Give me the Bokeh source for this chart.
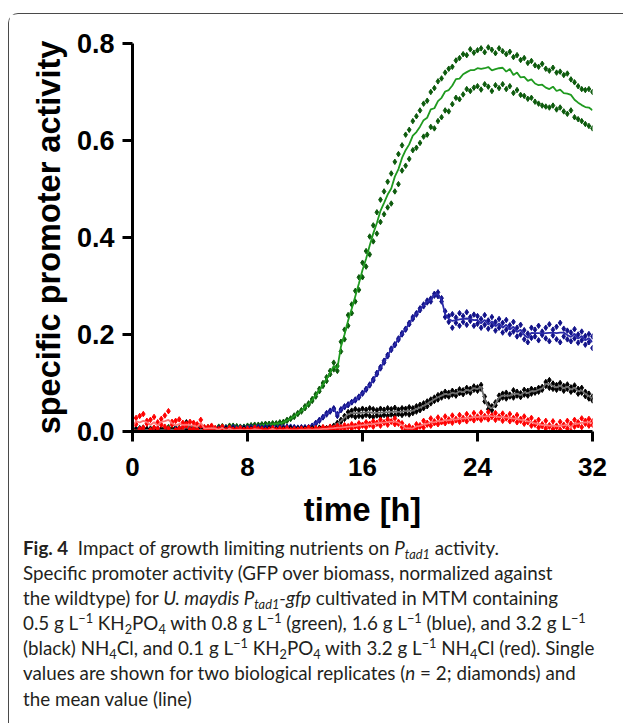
from bokeh.plotting import figure
from bokeh.models import Range1d, FixedTicker, Div, NumeralTickFormatter
from bokeh.layouts import column
from bokeh.embed import file_html
from bokeh.resources import INLINE

# time grid [h]
time_h = [i * 0.25 for i in range(129)]

# 0.8 g/L NH4Cl (green)
green_rep1 = [
    0.004, 0.006, 0.003, 0.008, 0.005, 0.002, 0.007, 0.004,
    0.006, 0.003, 0.009, 0.005, 0.004, 0.007, 0.002, 0.006,
    0.008, 0.005, 0.010, 0.006, 0.004, 0.009, 0.007, 0.005,
    0.008, 0.011, 0.006, 0.009, 0.012, 0.007, 0.010, 0.008,
    0.012, 0.009, 0.014, 0.011, 0.015, 0.012, 0.016, 0.013,
    0.017, 0.014, 0.020, 0.024, 0.027, 0.033, 0.038, 0.044,
    0.052, 0.058, 0.067, 0.077, 0.088, 0.100, 0.112, 0.125,
    0.142, 0.135, 0.185, 0.210, 0.240, 0.262, 0.290, 0.318,
    0.348, 0.372, 0.402, 0.425, 0.452, 0.478, 0.495, 0.515,
    0.532, 0.556, 0.572, 0.590, 0.612, 0.622, 0.640, 0.650,
    0.662, 0.676, 0.682, 0.700, 0.708, 0.722, 0.728, 0.740,
    0.748, 0.752, 0.765, 0.770, 0.778, 0.776, 0.788, 0.781,
    0.786, 0.790, 0.782, 0.792, 0.787, 0.780, 0.790, 0.784,
    0.778, 0.783, 0.772, 0.776, 0.766, 0.770, 0.760, 0.764,
    0.755, 0.752, 0.758, 0.748, 0.744, 0.750, 0.740, 0.742,
    0.735, 0.738, 0.726, 0.720, 0.712, 0.706, 0.704, 0.706,
    0.700]
green_rep2 = [
    0.006, 0.003, 0.007, 0.004, 0.002, 0.006, 0.003, 0.005,
    0.004, 0.007, 0.003, 0.006, 0.008, 0.004, 0.006, 0.003,
    0.005, 0.009, 0.006, 0.004, 0.008, 0.005, 0.009, 0.006,
    0.010, 0.007, 0.009, 0.012, 0.008, 0.011, 0.007, 0.010,
    0.009, 0.013, 0.010, 0.014, 0.011, 0.016, 0.013, 0.017,
    0.015, 0.019, 0.018, 0.022, 0.026, 0.030, 0.036, 0.041,
    0.048, 0.055, 0.063, 0.072, 0.083, 0.094, 0.104, 0.118,
    0.128, 0.125, 0.165, 0.190, 0.218, 0.244, 0.268, 0.292,
    0.318, 0.340, 0.365, 0.392, 0.408, 0.432, 0.448, 0.462,
    0.470, 0.495, 0.510, 0.538, 0.548, 0.562, 0.580, 0.585,
    0.595, 0.608, 0.612, 0.628, 0.625, 0.640, 0.648, 0.662,
    0.660, 0.675, 0.688, 0.685, 0.695, 0.706, 0.702, 0.709,
    0.712, 0.705, 0.716, 0.711, 0.702, 0.714, 0.708, 0.716,
    0.706, 0.712, 0.698, 0.704, 0.694, 0.692, 0.686, 0.688,
    0.680, 0.676, 0.672, 0.670, 0.668, 0.672, 0.664, 0.668,
    0.660, 0.655, 0.662, 0.648, 0.644, 0.640, 0.634, 0.630,
    0.625]

# 1.6 g/L NH4Cl (blue)
blue_rep1 = [
    0.004, 0.002, 0.006, 0.003, 0.005, 0.002, 0.004, 0.006,
    0.003, 0.005, 0.002, 0.004, 0.006, 0.003, 0.005, 0.004,
    0.006, 0.003, 0.005, 0.007, 0.004, 0.006, 0.008, 0.005,
    0.007, 0.005, 0.008, 0.006, 0.009, 0.007, 0.005, 0.008,
    0.006, 0.009, 0.007, 0.010, 0.008, 0.006, 0.009, 0.007,
    0.008, 0.006, 0.009, 0.007, 0.010, 0.008, 0.006, 0.009,
    0.007, 0.009, 0.012, 0.018, 0.024, 0.030, 0.038, 0.043,
    0.048, 0.036, 0.046, 0.052, 0.056, 0.061, 0.066, 0.072,
    0.080, 0.088, 0.097, 0.108, 0.121, 0.133, 0.146, 0.158,
    0.171, 0.180, 0.192, 0.203, 0.212, 0.224, 0.236, 0.244,
    0.254, 0.262, 0.266, 0.274, 0.280, 0.287, 0.275, 0.248,
    0.238, 0.242, 0.235, 0.244, 0.238, 0.246, 0.236, 0.241,
    0.238, 0.232, 0.240, 0.229, 0.236, 0.226, 0.232, 0.224,
    0.230, 0.219, 0.226, 0.214, 0.220, 0.209, 0.202, 0.214,
    0.210, 0.218, 0.206, 0.214, 0.221, 0.210, 0.216, 0.224,
    0.212, 0.208, 0.204, 0.211, 0.200, 0.206, 0.197, 0.201,
    0.196]
blue_rep2 = [
    0.002, 0.005, 0.003, 0.006, 0.002, 0.004, 0.003, 0.005,
    0.004, 0.002, 0.005, 0.003, 0.004, 0.006, 0.003, 0.005,
    0.004, 0.006, 0.003, 0.005, 0.007, 0.004, 0.006, 0.004,
    0.005, 0.008, 0.006, 0.004, 0.007, 0.005, 0.008, 0.006,
    0.008, 0.005, 0.009, 0.006, 0.007, 0.009, 0.006, 0.008,
    0.006, 0.009, 0.007, 0.010, 0.007, 0.009, 0.008, 0.006,
    0.009, 0.008, 0.011, 0.016, 0.022, 0.029, 0.035, 0.041,
    0.046, 0.032, 0.044, 0.050, 0.054, 0.060, 0.064, 0.070,
    0.078, 0.086, 0.095, 0.105, 0.118, 0.130, 0.142, 0.155,
    0.168, 0.178, 0.189, 0.200, 0.210, 0.221, 0.232, 0.241,
    0.250, 0.258, 0.270, 0.268, 0.284, 0.279, 0.268, 0.236,
    0.226, 0.214, 0.224, 0.218, 0.226, 0.220, 0.228, 0.218,
    0.222, 0.214, 0.220, 0.212, 0.218, 0.208, 0.214, 0.204,
    0.210, 0.201, 0.206, 0.196, 0.200, 0.190, 0.184, 0.193,
    0.196, 0.188, 0.199, 0.192, 0.186, 0.198, 0.190, 0.184,
    0.196, 0.190, 0.186, 0.192, 0.183, 0.188, 0.179, 0.184,
    0.172]

# 3.2 g/L NH4Cl (black)
black_rep1 = [
    0.003, 0.001, 0.004, 0.002, 0.005, 0.002, 0.003, 0.001,
    0.004, 0.002, 0.003, 0.005, 0.002, 0.004, 0.003, 0.019,
    0.004, 0.002, 0.005, 0.003, 0.005, 0.002, 0.004, 0.003,
    0.005, 0.003, 0.004, 0.002, 0.005, 0.003, 0.004, 0.006,
    0.003, 0.005, 0.004, 0.002, 0.005, 0.003, 0.006, 0.004,
    0.005, 0.003, 0.006, 0.004, 0.007, 0.005, 0.004, 0.006,
    0.005, 0.007, 0.004, 0.006, 0.008, 0.005, 0.007, 0.009,
    0.012, 0.018, 0.024, 0.032, 0.040, 0.043, 0.046, 0.044,
    0.047, 0.045, 0.048, 0.046, 0.044, 0.047, 0.045, 0.048,
    0.046, 0.049, 0.045, 0.048, 0.047, 0.050, 0.048, 0.052,
    0.055, 0.058, 0.062, 0.066, 0.070, 0.075, 0.078, 0.082,
    0.080, 0.084, 0.082, 0.087, 0.085, 0.090, 0.088, 0.093,
    0.091, 0.096, 0.072, 0.056, 0.052, 0.060, 0.074, 0.078,
    0.080, 0.076, 0.085, 0.082, 0.079, 0.086, 0.084, 0.088,
    0.086, 0.090, 0.092, 0.102, 0.106, 0.099, 0.096, 0.100,
    0.094, 0.097, 0.091, 0.095, 0.088, 0.090, 0.082, 0.078,
    0.072]
black_rep2 = [
    0.002, 0.004, 0.001, 0.003, 0.002, 0.004, 0.001, 0.003,
    0.002, 0.004, 0.001, 0.003, 0.004, 0.002, 0.003, 0.002,
    0.003, 0.005, 0.002, 0.004, 0.002, 0.003, 0.005, 0.002,
    0.004, 0.002, 0.005, 0.003, 0.002, 0.004, 0.003, 0.002,
    0.004, 0.002, 0.003, 0.005, 0.003, 0.004, 0.002, 0.005,
    0.003, 0.005, 0.004, 0.003, 0.005, 0.004, 0.006, 0.004,
    0.006, 0.004, 0.007, 0.005, 0.006, 0.008, 0.006, 0.008,
    0.010, 0.014, 0.020, 0.026, 0.031, 0.033, 0.030, 0.032,
    0.031, 0.034, 0.032, 0.030, 0.033, 0.031, 0.034, 0.032,
    0.035, 0.033, 0.036, 0.034, 0.037, 0.035, 0.038, 0.041,
    0.044, 0.048, 0.052, 0.058, 0.063, 0.066, 0.070, 0.073,
    0.072, 0.076, 0.074, 0.079, 0.077, 0.082, 0.080, 0.086,
    0.084, 0.088, 0.062, 0.046, 0.044, 0.054, 0.066, 0.070,
    0.068, 0.072, 0.070, 0.074, 0.071, 0.076, 0.074, 0.078,
    0.080, 0.082, 0.086, 0.094, 0.090, 0.088, 0.086, 0.089,
    0.084, 0.088, 0.082, 0.085, 0.078, 0.080, 0.073, 0.068,
    0.064]

# 0.1 g/L KH2PO4 + 3.2 g/L NH4Cl (red)
red_rep1 = [
    0.012, 0.028, 0.005, 0.036, 0.016, 0.024, 0.008, 0.019,
    0.026, 0.010, 0.042, 0.014, 0.022, 0.006, 0.018, 0.012,
    0.020, 0.006, 0.015, 0.024, 0.009, 0.004, 0.012, 0.007,
    0.005, 0.010, 0.003, 0.008, 0.004, 0.002, 0.007, 0.003,
    0.006, 0.002, 0.008, 0.003, 0.005, 0.002, 0.004, 0.007,
    0.003, 0.006, 0.002, 0.007, 0.003, 0.005, 0.002, 0.006,
    0.004, 0.008, 0.003, 0.007, 0.004, 0.009, 0.005, 0.010,
    0.006, 0.012, 0.007, 0.013, 0.009, 0.015, 0.010, 0.017,
    0.012, 0.019, 0.014, 0.021, 0.016, 0.024, 0.018, 0.025,
    0.021, 0.027, 0.020, 0.017, 0.009, 0.011, 0.007, 0.015,
    0.013, 0.022, 0.018, 0.027, 0.021, 0.029, 0.023, 0.031,
    0.025, 0.033, 0.026, 0.034, 0.028, 0.036, 0.029, 0.038,
    0.031, 0.039, 0.032, 0.040, 0.033, 0.038, 0.031, 0.037,
    0.030, 0.036, 0.028, 0.034, 0.026, 0.031, 0.023, 0.028,
    0.019, 0.024, 0.015, 0.022, 0.013, 0.021, 0.012, 0.020,
    0.014, 0.022, 0.016, 0.024, 0.019, 0.027, 0.022, 0.026,
    0.021]
red_rep2 = [
    0.004, 0.015, 0.032, 0.008, 0.022, 0.003, 0.030, 0.006,
    0.014, 0.033, 0.006, 0.020, 0.003, 0.025, 0.009, 0.016,
    0.005, 0.018, 0.004, 0.012, 0.003, 0.009, 0.002, 0.006,
    0.002, 0.005, 0.001, 0.004, 0.002, 0.005, 0.001, 0.003,
    0.001, 0.004, 0.002, 0.005, 0.001, 0.003, 0.002, 0.004,
    0.002, 0.001, 0.004, 0.002, 0.003, 0.001, 0.004, 0.002,
    0.003, 0.001, 0.004, 0.002, 0.005, 0.002, 0.006, 0.003,
    0.008, 0.004, 0.009, 0.005, 0.011, 0.006, 0.012, 0.008,
    0.014, 0.009, 0.016, 0.010, 0.018, 0.012, 0.019, 0.014,
    0.020, 0.015, 0.016, 0.009, 0.004, 0.002, 0.005, 0.006,
    0.010, 0.008, 0.014, 0.012, 0.017, 0.015, 0.019, 0.017,
    0.021, 0.018, 0.023, 0.020, 0.025, 0.021, 0.027, 0.023,
    0.028, 0.024, 0.029, 0.025, 0.030, 0.024, 0.028, 0.022,
    0.027, 0.021, 0.025, 0.019, 0.022, 0.016, 0.019, 0.012,
    0.014, 0.008, 0.011, 0.006, 0.010, 0.005, 0.009, 0.004,
    0.011, 0.006, 0.001, 0.010, 0.013, 0.009, 0.016, 0.012,
    0.014]

x_ticks = [0, 8, 16, 24, 32]
y_ticks = [0.0, 0.2, 0.4, 0.6, 0.8]

for arr in (green_rep1, green_rep2, blue_rep1, blue_rep2, black_rep1, black_rep2, red_rep1, red_rep2):
    assert len(arr) == len(time_h), len(arr)

series = [
    (green_rep1, green_rep2, "#0c5a0c", "#1f9a1f"),
    (blue_rep1, blue_rep2, "#12128a", "#2a2aa8"),
    (black_rep1, black_rep2, "#000000", "#6e6e6e"),
    (red_rep1, red_rep2, "#ff0000", "#ff7272"),
]

p = figure(width=606, height=516, x_range=Range1d(0, 32), y_range=Range1d(0, 0.8),
           output_backend="svg", toolbar_location=None,
           min_border_left=123, min_border_right=23, min_border_top=29, min_border_bottom=97)
p.outline_line_color = None
p.grid.visible = False

for r1, r2, pc, lc in series:
    mean = [(a + b) / 2 for a, b in zip(r1, r2)]
    p.scatter(time_h, r1, marker="diamond", size=5.5, color=pc)
    p.scatter(time_h, r2, marker="diamond", size=5.5, color=pc)
    p.line(time_h, mean, line_color=lc, line_width=1.8)

for ax in (p.xaxis[0], p.yaxis[0]):
    ax.axis_line_width = 3
    ax.axis_line_color = "black"
    ax.major_tick_line_width = 3
    ax.major_tick_out = 10
    ax.major_tick_in = 0
    ax.minor_tick_line_color = None
    ax.major_label_text_font = "Liberation Sans"
    ax.major_label_text_font_style = "bold"
    ax.major_label_text_font_size = "26px"
    ax.major_label_text_color = "black"
    ax.axis_label_text_font = "Liberation Sans"
    ax.axis_label_text_font_style = "bold"
    ax.axis_label_text_font_size = "32.5px"
    ax.axis_label_text_color = "black"

p.yaxis.major_label_text_font_size = "27px"
p.xaxis.ticker = FixedTicker(ticks=x_ticks)
p.yaxis.ticker = FixedTicker(ticks=y_ticks)
p.yaxis.formatter = NumeralTickFormatter(format="0.0")
p.xaxis.axis_label = "time [h]"
p.yaxis.axis_label = "specific promoter activity"
p.xaxis.major_label_standoff = 16
p.yaxis.major_label_standoff = 8
p.xaxis.axis_label_standoff = 13
p.yaxis.axis_label_standoff = 7

sub = "<sub style='font-size:0.68em;line-height:0;vertical-align:-0.3em'>"
sup = "<sup style='font-size:0.68em;line-height:0;vertical-align:0.55em'>"
caption_html = (
    "<div style=\"font-family:Lato;font-size:18.8px;line-height:25.1px;color:#231f20;"
    "white-space:nowrap;padding-left:9px;padding-top:0px\">"
    "<b>Fig. 4</b>&nbsp; Impact of growth limiting nutrients on <i>P</i>" + sub + "<i>tad1</i></sub> activity.<br>"
    "Specific promoter activity (GFP over biomass, normalized against<br>"
    "the wildtype) for <i>U. maydis P</i>" + sub + "<i>tad1</i></sub><i>-gfp</i> cultivated in MTM containing<br>"
    "0.5 g L" + sup + "\u22121</sup> KH" + sub + "2</sub>PO" + sub + "4</sub> with 0.8 g L" + sup + "\u22121</sup> (green), 1.6 g L"
    + sup + "\u22121</sup> (blue), and 3.2 g L" + sup + "\u22121</sup><br>"
    "(black) NH" + sub + "4</sub>Cl, and 0.1 g L" + sup + "\u22121</sup> KH" + sub + "2</sub>PO" + sub + "4</sub> with 3.2 g L"
    + sup + "\u22121</sup> NH" + sub + "4</sub>Cl (red). Single<br>"
    "values are shown for two biological replicates (<i>n</i> = 2; diamonds) and<br>"
    "the mean value (line)"
    "</div>"
)
cap = Div(text=caption_html, width=606, height=185)

layout = column(p, cap, margin=(13, 0, 0, 8),
                styles={"border-left": "1px solid #4a4a4a", "border-top": "1px solid #4a4a4a",
                        "border-top-left-radius": "10px"})

open("out.html", "w").write(file_html(layout, INLINE))
